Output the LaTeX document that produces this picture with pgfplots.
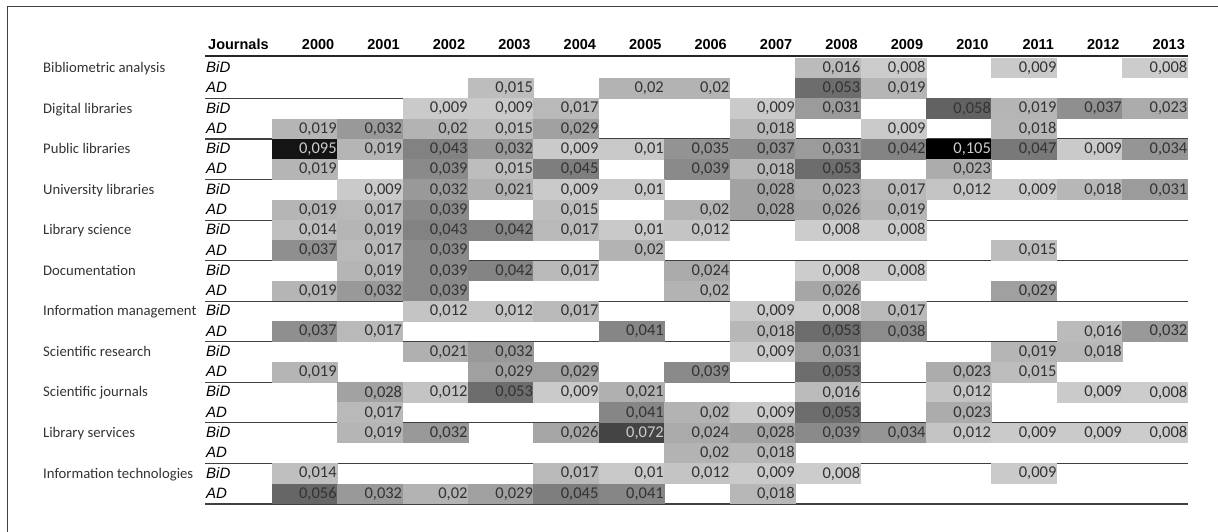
\documentclass[border=0pt]{standalone}
\usepackage{pgfplots}
\pgfplotsset{compat=1.18}
\usepackage{pgfplotstable}
\usepackage{fontspec}
\setmainfont{Carlito}
\newfontfamily\arial{Liberation Sans}
\definecolor{txt}{gray}{0.2}
\pgfkeys{/pgf/number format/.cd, fixed, precision=3, use comma, assume math mode=true}
\tikzset{cell/.style={inner xsep=1pt, inner ysep=0pt, text width=63.9pt, align=right,
  minimum height=20.7pt, anchor=center, draw=none, font=\fontsize{16.5}{19}\selectfont}}

\pgfplotstableread{
x y v
8 0 0.016
9 0 0.008
11 0 0.009
13 0 0.008
3 1 0.015
5 1 0.02
6 1 0.02
8 1 0.053
9 1 0.019
2 2 0.009
3 2 0.009
4 2 0.017
7 2 0.009
8 2 0.031
10 2 0.058
11 2 0.019
12 2 0.037
13 2 0.023
0 3 0.019
1 3 0.032
2 3 0.02
3 3 0.015
4 3 0.029
7 3 0.018
9 3 0.009
11 3 0.018
0 4 0.095
1 4 0.019
2 4 0.043
3 4 0.032
4 4 0.009
5 4 0.01
6 4 0.035
7 4 0.037
8 4 0.031
9 4 0.042
10 4 0.105
11 4 0.047
12 4 0.009
13 4 0.034
0 5 0.019
2 5 0.039
3 5 0.015
4 5 0.045
6 5 0.039
7 5 0.018
8 5 0.053
10 5 0.023
1 6 0.009
2 6 0.032
3 6 0.021
4 6 0.009
5 6 0.01
7 6 0.028
8 6 0.023
9 6 0.017
10 6 0.012
11 6 0.009
12 6 0.018
13 6 0.031
0 7 0.019
1 7 0.017
2 7 0.039
4 7 0.015
6 7 0.02
7 7 0.028
8 7 0.026
9 7 0.019
0 8 0.014
1 8 0.019
2 8 0.043
3 8 0.042
4 8 0.017
5 8 0.01
6 8 0.012
8 8 0.008
9 8 0.008
0 9 0.037
1 9 0.017
2 9 0.039
5 9 0.02
11 9 0.015
1 10 0.019
2 10 0.039
3 10 0.042
4 10 0.017
6 10 0.024
8 10 0.008
9 10 0.008
0 11 0.019
1 11 0.032
2 11 0.039
6 11 0.02
8 11 0.026
11 11 0.029
2 12 0.012
3 12 0.012
4 12 0.017
7 12 0.009
8 12 0.008
9 12 0.017
0 13 0.037
1 13 0.017
5 13 0.041
7 13 0.018
8 13 0.053
9 13 0.038
12 13 0.016
13 13 0.032
2 14 0.021
3 14 0.032
7 14 0.009
8 14 0.031
11 14 0.019
12 14 0.018
0 15 0.019
3 15 0.029
4 15 0.029
6 15 0.039
8 15 0.053
10 15 0.023
11 15 0.015
1 16 0.028
2 16 0.012
3 16 0.053
4 16 0.009
5 16 0.021
8 16 0.016
10 16 0.012
12 16 0.009
13 16 0.008
1 17 0.017
5 17 0.041
6 17 0.02
7 17 0.009
8 17 0.053
10 17 0.023
1 18 0.019
2 18 0.032
4 18 0.026
5 18 0.072
6 18 0.024
7 18 0.028
8 18 0.039
9 18 0.034
10 18 0.012
11 18 0.009
12 18 0.009
13 18 0.008
6 19 0.02
7 19 0.018
0 20 0.014
4 20 0.017
5 20 0.01
6 20 0.012
7 20 0.009
8 20 0.008
11 20 0.009
0 21 0.056
1 21 0.032
2 21 0.02
3 21 0.029
4 21 0.045
5 21 0.041
7 21 0.018
}\cells

\begin{document}
\begin{tikzpicture}
\useasboundingbox (0pt,0pt) rectangle (1218pt,-532pt);
% frame
\draw[line width=1pt, black!75] (7pt,-532pt) -- (7pt,-7pt) -- (1218pt,-7pt);
% group separators
\foreach \m in {1,...,11} {
  \pgfmathsetmacro\yl{58+40.54*\m}
  \draw[line width=1.2pt, black!75] (205pt,-\yl pt) -- (1187.5pt,-\yl pt);
}
% header underline
\draw[line width=1.8pt, black!85] (205pt,-56pt) -- (1187.5pt,-56pt);
% header
\node[anchor=base west, inner sep=0pt, font=\arial\bfseries\fontsize{14.5}{17}\selectfont] at (208pt,-50pt) {Journals};
\foreach \yr [count=\j from 0] in {2000,...,2013} {
  \pgfmathsetmacro\xr{272+65.43*(\j+1)-3}
  \node[anchor=base east, inner sep=0pt, font=\arial\bfseries\fontsize{14.5}{17}\selectfont] at (\xr pt,-50pt) {\yr};
}
% topic labels
\foreach \name [count=\k from 0] in {Bibliometric analysis, Digital libraries, Public libraries, University libraries, Library science, Documentation, Information management, Scientific research, Scientific journals, Library services, Information technologies} {
  \pgfmathsetmacro\yb{72.6+40.54*\k}
  \node[anchor=base west, inner sep=0pt, text=txt, font=\fontsize{14.7}{17}\selectfont] at (43pt,-\yb pt) {\name};
}
\foreach \k in {0,...,10} {
  \pgfmathsetmacro\yb{72.6+40.54*\k}
  \pgfmathsetmacro\yc{72.6+40.54*\k+20.27}
  \node[anchor=base west, inner sep=0pt, font=\arial\itshape\fontsize{15}{17}\selectfont] at (206pt,-\yb pt) {BiD};
  \node[anchor=base west, inner sep=0pt, font=\arial\itshape\fontsize{15}{17}\selectfont] at (206pt,-\yc pt) {AD};
}
\begin{axis}[
  at={(272pt,-504pt)}, anchor=south west,
  scale only axis, width=916pt, height=446pt,
  xmin=-0.5, xmax=13.5, ymin=-0.5, ymax=21.5, y dir=reverse,
  hide axis, clip=false,
  colormap={bw}{gray(0cm)=(0.8); gray(1cm)=(0)},
  point meta min=0.008, point meta max=0.105,
]
\addplot[scatter, only marks, mark=text, text mark={}, point meta=explicit,
  scatter/@pre marker code/.append code={%
    \ifdim\pgfplotspointmetatransformed pt>600pt\def\tc{20}\else\def\tc{80}\fi
    \node[cell, fill=mapped color, text=black!\tc] at (0pt,0pt) {\pgfmathprintnumber{\pgfplotspointmeta}};},
] table[x=x, y=y, meta=v] {\cells};
\end{axis}
\end{tikzpicture}
\end{document}
